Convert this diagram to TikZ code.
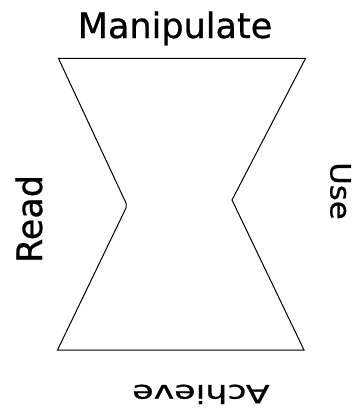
\documentclass[tikz,border=0pt]{standalone}
\usepackage{fontspec}
\setmainfont[FakeBold=0.8]{DejaVu Sans}
\begin{document}
\begin{tikzpicture}[x=1pt,y=-1pt,
  lbl/.style={inner sep=0pt,anchor=base},
  edge/.style={draw=black,line width=1pt,line join=miter}]
\useasboundingbox (0,0) rectangle (353,412);
\coordinate (tl) at (58.5,58.5);
\coordinate (tr) at (305.5,58.5);
\coordinate (la1) at (126,203);
\coordinate (la2) at (126,208);
\coordinate (ra) at (232,200);
\coordinate (bl) at (57.5,350);
\coordinate (br) at (304,350);
\draw[edge] (tl) -- (tr) -- (ra) -- (br) -- (bl) -- (la2) -- (la1) -- cycle;
\node[lbl,font=\fontsize{35}{40}\selectfont] (man) at (175,38) {Manipulate};
\node[lbl,rotate=90,font=\fontsize{35}{40}\selectfont] (read) at (42,219) {Read};
\node[lbl,rotate=-90,font=\fontsize{28}{32}\selectfont] (use) at (330.5,191) {\scalebox{1.1}[1]{Use}};
\node[lbl,rotate=180,font=\fontsize{25}{30}\selectfont] (ach) at (201,385) {\scalebox{1.39}[1]{Achieve}};
\end{tikzpicture}
\end{document}
